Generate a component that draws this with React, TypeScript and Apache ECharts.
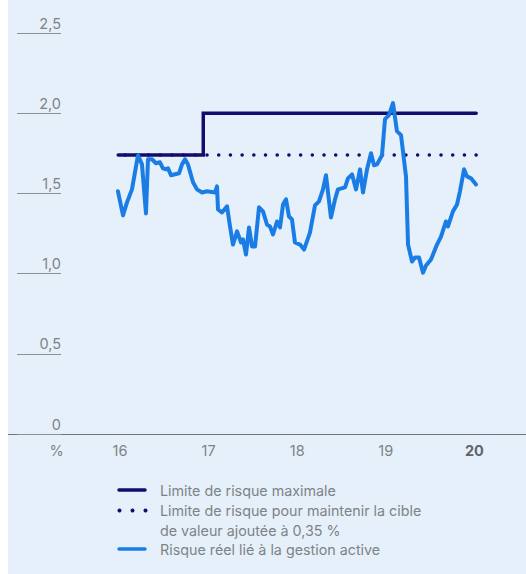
import React, { useEffect, useRef } from "react";
import * as echarts from "echarts";

const xTickValues = [15.285, 16, 17, 18, 19, 20];
const xTickLabels = ["%", "16", "17", "18", "19", "20"];
const yTickLabels = ["0", "0,5", "1,0", "1,5", "2,0", "2,5"];

const maxLimit: [number, number][] = [
  [15.98, 1.74], [16.94, 1.74], [16.94, 2.0], [20.02, 2.0],
];
const targetLimit: [number, number][] = [
  [20.02, 1.74], [15.98, 1.74],
];
const activeRisk: [number, number][] = [
  [15.977, 1.513], [16.034, 1.363], [16.079, 1.444], [16.135, 1.525], [16.169, 1.631],
  [16.203, 1.738], [16.248, 1.681], [16.293, 1.375], [16.316, 1.713], [16.361, 1.713],
  [16.406, 1.688], [16.451, 1.694], [16.485, 1.656], [16.519, 1.65], [16.542, 1.656],
  [16.576, 1.613], [16.621, 1.619], [16.666, 1.625], [16.7, 1.681], [16.734, 1.713],
  [16.767, 1.681], [16.824, 1.569], [16.869, 1.525], [16.926, 1.506], [16.982, 1.513],
  [17.072, 1.506], [17.095, 1.544], [17.106, 1.4], [17.151, 1.381], [17.208, 1.419],
  [17.242, 1.294], [17.275, 1.181], [17.321, 1.263], [17.366, 1.194], [17.388, 1.213],
  [17.422, 1.119], [17.456, 1.288], [17.49, 1.169], [17.524, 1.169], [17.569, 1.413],
  [17.614, 1.388], [17.659, 1.306], [17.693, 1.294], [17.727, 1.244], [17.772, 1.325],
  [17.806, 1.288], [17.84, 1.431], [17.874, 1.463], [17.907, 1.356], [17.941, 1.338],
  [17.975, 1.194], [18.032, 1.181], [18.077, 1.15], [18.144, 1.256], [18.201, 1.425],
  [18.246, 1.45], [18.291, 1.525], [18.325, 1.613], [18.381, 1.35], [18.427, 1.463],
  [18.46, 1.525], [18.54, 1.538], [18.573, 1.594], [18.619, 1.619], [18.664, 1.525],
  [18.709, 1.65], [18.743, 1.506], [18.788, 1.65], [18.833, 1.75], [18.867, 1.675],
  [18.901, 1.681], [18.957, 1.738], [18.991, 1.963], [19.036, 1.988], [19.081, 2.063],
  [19.126, 1.888], [19.172, 1.863], [19.228, 1.606], [19.251, 1.181], [19.296, 1.075],
  [19.33, 1.1], [19.375, 1.1], [19.42, 1.006], [19.454, 1.05], [19.51, 1.088],
  [19.578, 1.181], [19.623, 1.231], [19.679, 1.325], [19.702, 1.294], [19.758, 1.388],
  [19.804, 1.431], [19.837, 1.513], [19.883, 1.65], [19.916, 1.606], [19.962, 1.594],
  [20.018, 1.556],
];

const legendLabels = [
  "Limite de risque maximale",
  "Limite de risque pour maintenir la cible",
  "de valeur ajoutée à 0,35 %",
  "Risque réel lié à la gestion active",
];

const NAVY = "#130c6c";
const BLUE = "#1a7de6";
const GREY = "#7d8388";
const FONT = "Inter, 'Open Sans', sans-serif";

export default function App() {
  const ref = useRef<HTMLDivElement>(null);
  useEffect(() => {
    if (!ref.current) return;
    const chart = echarts.init(ref.current, null, { renderer: "svg" });
    const textStyle = { fill: GREY, fontSize: 14.3, fontFamily: FONT };
    chart.setOption({
      animation: false,
      backgroundColor: "#e6f0fa",
      textStyle: { fontFamily: FONT },
      grid: { left: 0, right: 0, top: 33, bottom: 140, containLabel: false },
      xAxis: {
        type: "value",
        min: 14.7359,
        max: 20.5824,
        axisLine: { show: true, lineStyle: { color: "#6e7479", width: 1 } },
        axisTick: { show: false },
        splitLine: { show: false },
        axisLabel: {
          customValues: xTickValues,
          margin: 9,
          color: GREY,
          fontSize: 14.5,
          fontFamily: FONT,
          formatter: (v: number) => {
            let idx = 0;
            let best = Infinity;
            xTickValues.forEach((t, i) => {
              const d = Math.abs(t - v);
              if (d < best) { best = d; idx = i; }
            });
            const lab = xTickLabels[idx];
            return idx === xTickLabels.length - 1 ? `{b|${lab}}` : lab;
          },
          rich: {
            b: { fontWeight: "bold", color: "#5f656a", fontSize: 14.5, fontFamily: FONT },
          },
        },
      },
      yAxis: {
        type: "value",
        min: 0,
        max: 2.5,
        interval: 0.5,
        offset: -53,
        axisLine: { show: false },
        axisTick: { show: true, length: 44, lineStyle: { color: "#8c9196", width: 1.2 } },
        splitLine: { show: false },
        axisLabel: {
          margin: 0,
          color: GREY,
          fontSize: 14.5,
          fontFamily: FONT,
          verticalAlign: "bottom",
          lineHeight: 16,
          padding: [0, 0, 2, 0],
          formatter: (v: number) => yTickLabels[Math.round(v / 0.5)] ?? "",
        },
      },
      series: [
        {
          type: "line",
          data: targetLimit,
          symbol: "none",
          lineStyle: { color: NAVY, width: 3.5, type: [0.1, 11.6], cap: "round" },
          z: 2,
        },
        {
          type: "line",
          data: maxLimit,
          symbol: "none",
          lineStyle: { color: NAVY, width: 3.5, cap: "round", join: "miter" },
          z: 3,
        },
        {
          type: "line",
          data: activeRisk,
          symbol: "none",
          lineStyle: { color: BLUE, width: 4, cap: "round", join: "round" },
          z: 4,
        },
      ],
      graphic: [
        { type: "line", shape: { x1: 111, y1: 490, x2: 137, y2: 490 }, style: { stroke: NAVY, lineWidth: 3.5, lineCap: "round" } },
        { type: "circle", shape: { cx: 111.5, cy: 510.5, r: 2 }, style: { fill: NAVY } },
        { type: "circle", shape: { cx: 124.5, cy: 510.5, r: 2 }, style: { fill: NAVY } },
        { type: "circle", shape: { cx: 137.5, cy: 510.5, r: 2 }, style: { fill: NAVY } },
        { type: "line", shape: { x1: 111, y1: 549, x2: 137, y2: 549 }, style: { stroke: BLUE, lineWidth: 3.5, lineCap: "round" } },
        { type: "text", x: 152, y: 490, style: { ...textStyle, text: legendLabels[0], verticalAlign: "middle" } },
        { type: "text", x: 152, y: 510, style: { ...textStyle, text: legendLabels[1], verticalAlign: "middle" } },
        { type: "text", x: 152, y: 530, style: { ...textStyle, text: legendLabels[2], verticalAlign: "middle" } },
        { type: "text", x: 152, y: 549, style: { ...textStyle, text: legendLabels[3], verticalAlign: "middle" } },
      ],
    });
    return () => chart.dispose();
  }, []);
  return (
    <div
      ref={ref}
      style={{ position: "absolute", left: 8, top: 0, width: 518, height: 574 }}
    />
  );
}
